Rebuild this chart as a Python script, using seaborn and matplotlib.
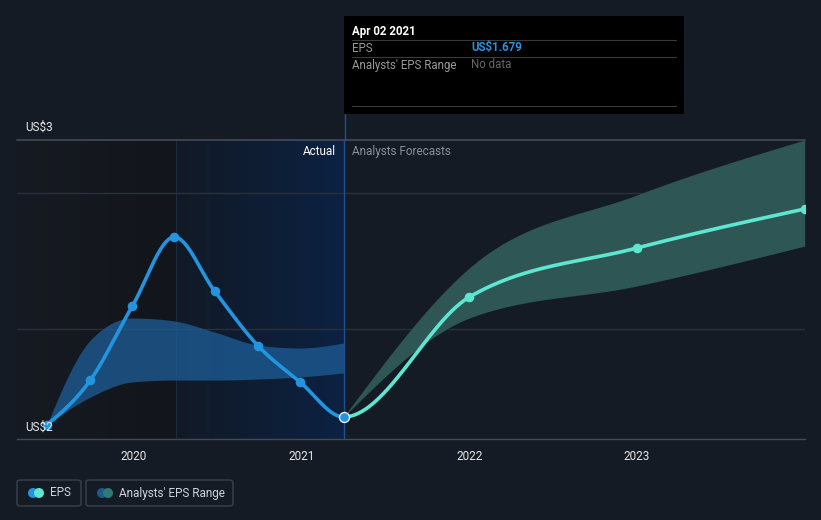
import numpy as np
import pandas as pd
import matplotlib
matplotlib.use("Agg")
import matplotlib.pyplot as plt
from matplotlib.patches import Rectangle, FancyBboxPatch, Ellipse
from matplotlib.lines import Line2D
import seaborn as sns

# ---------------- data ----------------
actual_years = [2019.48, 2019.74, 2019.99, 2020.24, 2020.48, 2020.74, 2020.99, 2021.25]
eps_actual = [1.641, 1.855, 2.208, 2.537, 2.280, 2.018, 1.846, 1.679]
past_range_high = [1.641, 2.046, 2.151, 2.137, 2.084, 2.022, 2.008, 2.032]
past_range_low = [1.641, 1.774, 1.846, 1.855, 1.855, 1.860, 1.870, 1.889]

forecast_years = [2021.25, 2022.0, 2023.0, 2024.0]
eps_forecast = [1.679, 2.251, 2.485, 2.671]
forecast_high = [1.679, 2.390, 2.738, 3.000]
forecast_low = [1.679, 2.151, 2.304, 2.494]

x_ticks = [2020, 2021, 2022, 2023]
x_tick_labels = ["2020", "2021", "2022", "2023"]
y_labels = ["US$3", "US$2"]

tooltip_date = "Apr 02 2021"
tooltip_eps = "US$1.679"

# ---------------- helpers ----------------
def monotone_x(xs, ys, n=40):
    xs = np.asarray(xs, float); ys = np.asarray(ys, float)
    m = len(xs)
    h = np.diff(xs); s = np.diff(ys) / h
    t = np.zeros(m)
    for i in range(1, m - 1):
        h0, h1 = h[i - 1], h[i]
        s0, s1 = s[i - 1], s[i]
        p = (s0 * h1 + s1 * h0) / (h0 + h1)
        t[i] = (np.sign(s0) + np.sign(s1)) * min(abs(s0), abs(s1), 0.5 * abs(p))
    t[0] = (3 * s[0] - t[1]) / 2 if m > 2 else s[0]
    t[-1] = (3 * s[-1] - t[-2]) / 2 if m > 2 else s[-1]
    outx, outy = [], []
    for i in range(m - 1):
        u = np.linspace(0, 1, n, endpoint=(i == m - 2))
        hh = h[i]
        h00 = 2 * u**3 - 3 * u**2 + 1
        h10 = u**3 - 2 * u**2 + u
        h01 = -2 * u**3 + 3 * u**2
        h11 = u**3 - u**2
        outx.append(xs[i] + u * hh)
        outy.append(h00 * ys[i] + h10 * hh * t[i] + h01 * ys[i + 1] + h11 * hh * t[i + 1])
    return np.concatenate(outx), np.concatenate(outy)

# ---------------- style ----------------
BG = "#151b25"
sns.set_style("dark", {"axes.facecolor": BG, "figure.facecolor": BG})
plt.rcParams["font.family"] = ["Roboto", "DejaVu Sans"]

W, H = 821, 520
fig = plt.figure(figsize=(W / 100, H / 100), dpi=100, facecolor=BG)

def fx(px): return px / W
def fy(py): return 1 - py / H

ax = fig.add_axes([fx(17), fy(439), (805 - 17) / W, (439 - 140) / H])
ax.set_facecolor(BG)
xmin, xmax = 2019.302, 2024.002
ymin, ymax = 1.574, 3.0
ax.set_xlim(xmin, xmax)
ax.set_ylim(ymin, ymax)

# background regions
split = 2020.25
now = 2021.25
g1 = np.linspace(0, 1, 256)
c_a = np.array([22, 26, 34]) / 255
c_b = np.array([18, 21, 27]) / 255
img1 = (c_a[None, :] * (1 - g1[:, None]) + c_b[None, :] * g1[:, None])[None, :, :]
ax.imshow(img1, extent=[xmin, split, ymin, ymax], aspect="auto", zorder=0)
c_c = np.array([17, 26, 38]) / 255
c_d = np.array([12, 33, 66]) / 255
img2 = (c_c[None, :] * (1 - g1[:, None]) + c_d[None, :] * g1[:, None])[None, :, :]
ax.imshow(img2, extent=[split, now, ymin, ymax], aspect="auto", zorder=0)
ax.axvline(split, color="#1c2a40", lw=0.8, zorder=1)

# grid lines
for yv in [2.747, 2.099]:
    ax.axhline(yv, color="#2a303b", lw=1, zorder=1)

# past analyst range
bx, bh = monotone_x(actual_years, past_range_high)
_, bl = monotone_x(actual_years, past_range_low)
ax.fill_between(bx, bl, bh, color="#1d5b94", alpha=0.78, lw=0, zorder=2)

# forecast range
fxs, fh = monotone_x(forecast_years, forecast_high)
_, fl = monotone_x(forecast_years, forecast_low)
ax.fill_between(fxs, fl, fh, color="#2f5a58", alpha=0.95, lw=0, zorder=2)

# EPS line: one smooth series through actual + forecast, coloured by period
all_years = actual_years + forecast_years[1:]
all_eps = eps_actual + eps_forecast[1:]
cx, cy = monotone_x(all_years, all_eps, n=60)
mask_a = cx <= now + 1e-9
mask_f = cx >= now - 1e-9
df_actual = pd.DataFrame({"x": cx[mask_a], "y": cy[mask_a]})
df_fc = pd.DataFrame({"x": cx[mask_f], "y": cy[mask_f]})
sns.lineplot(data=df_actual, x="x", y="y", color="#2394df", lw=2.6, ax=ax, zorder=4, sort=False)
sns.lineplot(data=df_fc, x="x", y="y", color="#5ee6d0", lw=2.6, ax=ax, zorder=4, sort=False)

pts_a = pd.DataFrame({"x": actual_years[:-1], "y": eps_actual[:-1]})
sns.scatterplot(data=pts_a, x="x", y="y", color="#2394df", s=48, linewidth=0, ax=ax, zorder=5)
pts_f = pd.DataFrame({"x": forecast_years[1:], "y": eps_forecast[1:]})
sns.scatterplot(data=pts_f, x="x", y="y", color="#5ee6d0", s=48, linewidth=0, ax=ax, zorder=5)
ax.scatter([actual_years[-1]], [eps_actual[-1]], s=52, color="#2394df", edgecolor="white",
           linewidth=0.9, zorder=6)

# now line
ax.axvline(now, color="#1f4f8f", lw=1, zorder=3)
fig.add_artist(Line2D([fx(344.5), fx(344.5)], [fy(140), fy(114)], color="#1f4f8f", lw=1))

# axes cosmetics
for sp in ["top", "right", "left"]:
    ax.spines[sp].set_visible(False)
ax.spines["bottom"].set_color("#454b56")
ax.spines["bottom"].set_linewidth(1)
ax.axhline(ymax, color="#454b56", lw=1.2, zorder=3, clip_on=False)
ax.set_xticks(x_ticks)
ax.set_xticklabels(x_tick_labels)
ax.tick_params(axis="x", colors="#454b56", length=4, width=1, labelcolor="#e8e8e8",
               labelsize=8.5, pad=4)
ax.set_yticks([])
ax.set_xlabel("")
ax.set_ylabel("")
ax.grid(False)

# y labels
fig.text(fx(25), fy(127), y_labels[0], color="#e8e8e8", fontsize=8.5, va="center", ha="left")
fig.text(fx(25), fy(427), y_labels[1], color="#e8e8e8", fontsize=8.5, va="center", ha="left", zorder=10)

# section labels
fig.text(fx(336), fy(151), "Actual", color="#ffffff", fontsize=8.5, va="center", ha="right")
fig.text(fx(352), fy(151), "Analysts Forecasts", color="#8a8f98", fontsize=8.5, va="center", ha="left")

# tooltip
fig.add_artist(Rectangle((fx(344), fy(114)), (684 - 344) / W, (114 - 16) / H,
                         transform=fig.transFigure, facecolor="#000000", edgecolor="none", zorder=20))
for yy in [40, 57, 106]:
    fig.add_artist(Line2D([fx(352), fx(676)], [fy(yy), fy(yy)], color="#3a3a3a", lw=0.8, zorder=21))
fig.text(fx(352), fy(31), tooltip_date, color="#ffffff", fontsize=8.3, fontweight="bold",
         va="center", ha="left", zorder=22)
fig.text(fx(352), fy(48), "EPS", color="#9a9a9a", fontsize=8.3, va="center", ha="left", zorder=22)
fig.text(fx(471), fy(48), tooltip_eps, color="#2394df", fontsize=8.3, fontweight="bold",
         va="center", ha="left", zorder=22)
fig.text(fx(352), fy(65), "Analysts' EPS Range", color="#9a9a9a", fontsize=8.3, va="center",
         ha="left", zorder=22)
fig.text(fx(471), fy(65), "No data", color="#666666", fontsize=8.3, va="center", ha="left", zorder=22)

# legend
def legend_box(x0, x1, c1, c2, label):
    fig.add_artist(FancyBboxPatch((fx(x0), fy(506)), (x1 - x0) / W, 26 / H,
                                  boxstyle="round,pad=0,rounding_size=0.004",
                                  transform=fig.transFigure, facecolor="none",
                                  edgecolor="#3b414c", lw=1))
    for cxp, col in [(x0 + 16, c1), (x0 + 22, c2)]:
        fig.add_artist(Ellipse((fx(cxp), fy(493)), 10 / W, 10 / H, transform=fig.transFigure,
                               facecolor=col, edgecolor="none"))
    fig.text(fx(x0 + 33), fy(493), label, color="#d0d3d8", fontsize=8.5, va="center", ha="left")

legend_box(17, 81, "#2394df", "#5ee6d0", "EPS")
legend_box(86, 233, "#1d5a8c", "#2f7a72", "Analysts' EPS Range")

fig.savefig("out.png", dpi=100, facecolor=BG)
